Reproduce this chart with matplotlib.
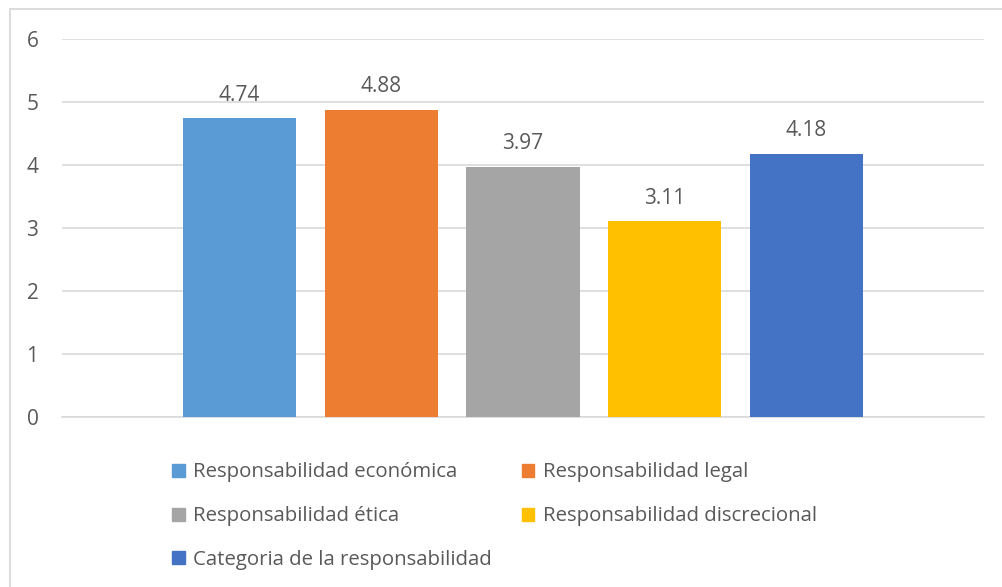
import matplotlib.pyplot as plt
from matplotlib.patches import Rectangle, Patch

# data
series = ["Responsabilidad económica", "Responsabilidad legal", "Responsabilidad ética",
          "Responsabilidad discrecional", "Categoria de la responsabilidad"]
values = [4.74, 4.88, 3.97, 3.11, 4.18]
colors = ["#5B9BD5", "#ED7D31", "#A5A5A5", "#FFC000", "#4472C4"]
yticks = [0, 1, 2, 3, 4, 5, 6]

plt.rcParams['font.family'] = ['Open Sans', 'DejaVu Sans']
txt = "#595959"

W, H = 1002, 587
fig = plt.figure(figsize=(W / 100, H / 100), dpi=100)

# chart area border (only top/left visible)
fig.patches.append(Rectangle((9.5 / W, -0.1), 1.2, 1 - 8.5 / H + 0.1, transform=fig.transFigure,
                             fill=False, edgecolor="#d9d9d9", linewidth=1.3))

ax = fig.add_axes([62 / W, 1 - 417 / H, (984 - 62) / W, (417 - 39) / H])
x = range(len(values))
bars = ax.bar(x, values, width=0.8, color=colors, zorder=3)
for i, v in enumerate(values):
    ax.annotate(f"{v:.2f}", (i, v), xytext=(0, 9), textcoords="offset points",
                ha="center", va="bottom", fontsize=15, color=txt)

ax.set_xlim(-1.253, 5.253)
ax.set_ylim(0, 6)
ax.set_yticks(yticks)
ax.set_xticks([])
ax.grid(axis="y", color="#d9d9d9", linewidth=1.2, zorder=0)
for s in ["top", "right", "left"]:
    ax.spines[s].set_visible(False)
ax.spines["bottom"].set_color("#d9d9d9")
ax.spines["bottom"].set_linewidth(1.2)
ax.tick_params(axis="y", length=0, pad=17, labelsize=15, labelcolor=txt)

# legend, filled so it reads row by row
order = [0, 2, 4, 1, 3]
handles = [Patch(color=colors[i], label=series[i]) for i in order]
fig.legend(handles=handles, loc="upper left", bbox_to_anchor=(154 / W, 1 - 444 / H),
           ncol=2, frameon=False, fontsize=14.7, labelcolor=txt,
           handlelength=0.6, handleheight=0.6, handletextpad=0.4,
           columnspacing=1.5, labelspacing=1.17)

fig.savefig("out.png", dpi=100)
